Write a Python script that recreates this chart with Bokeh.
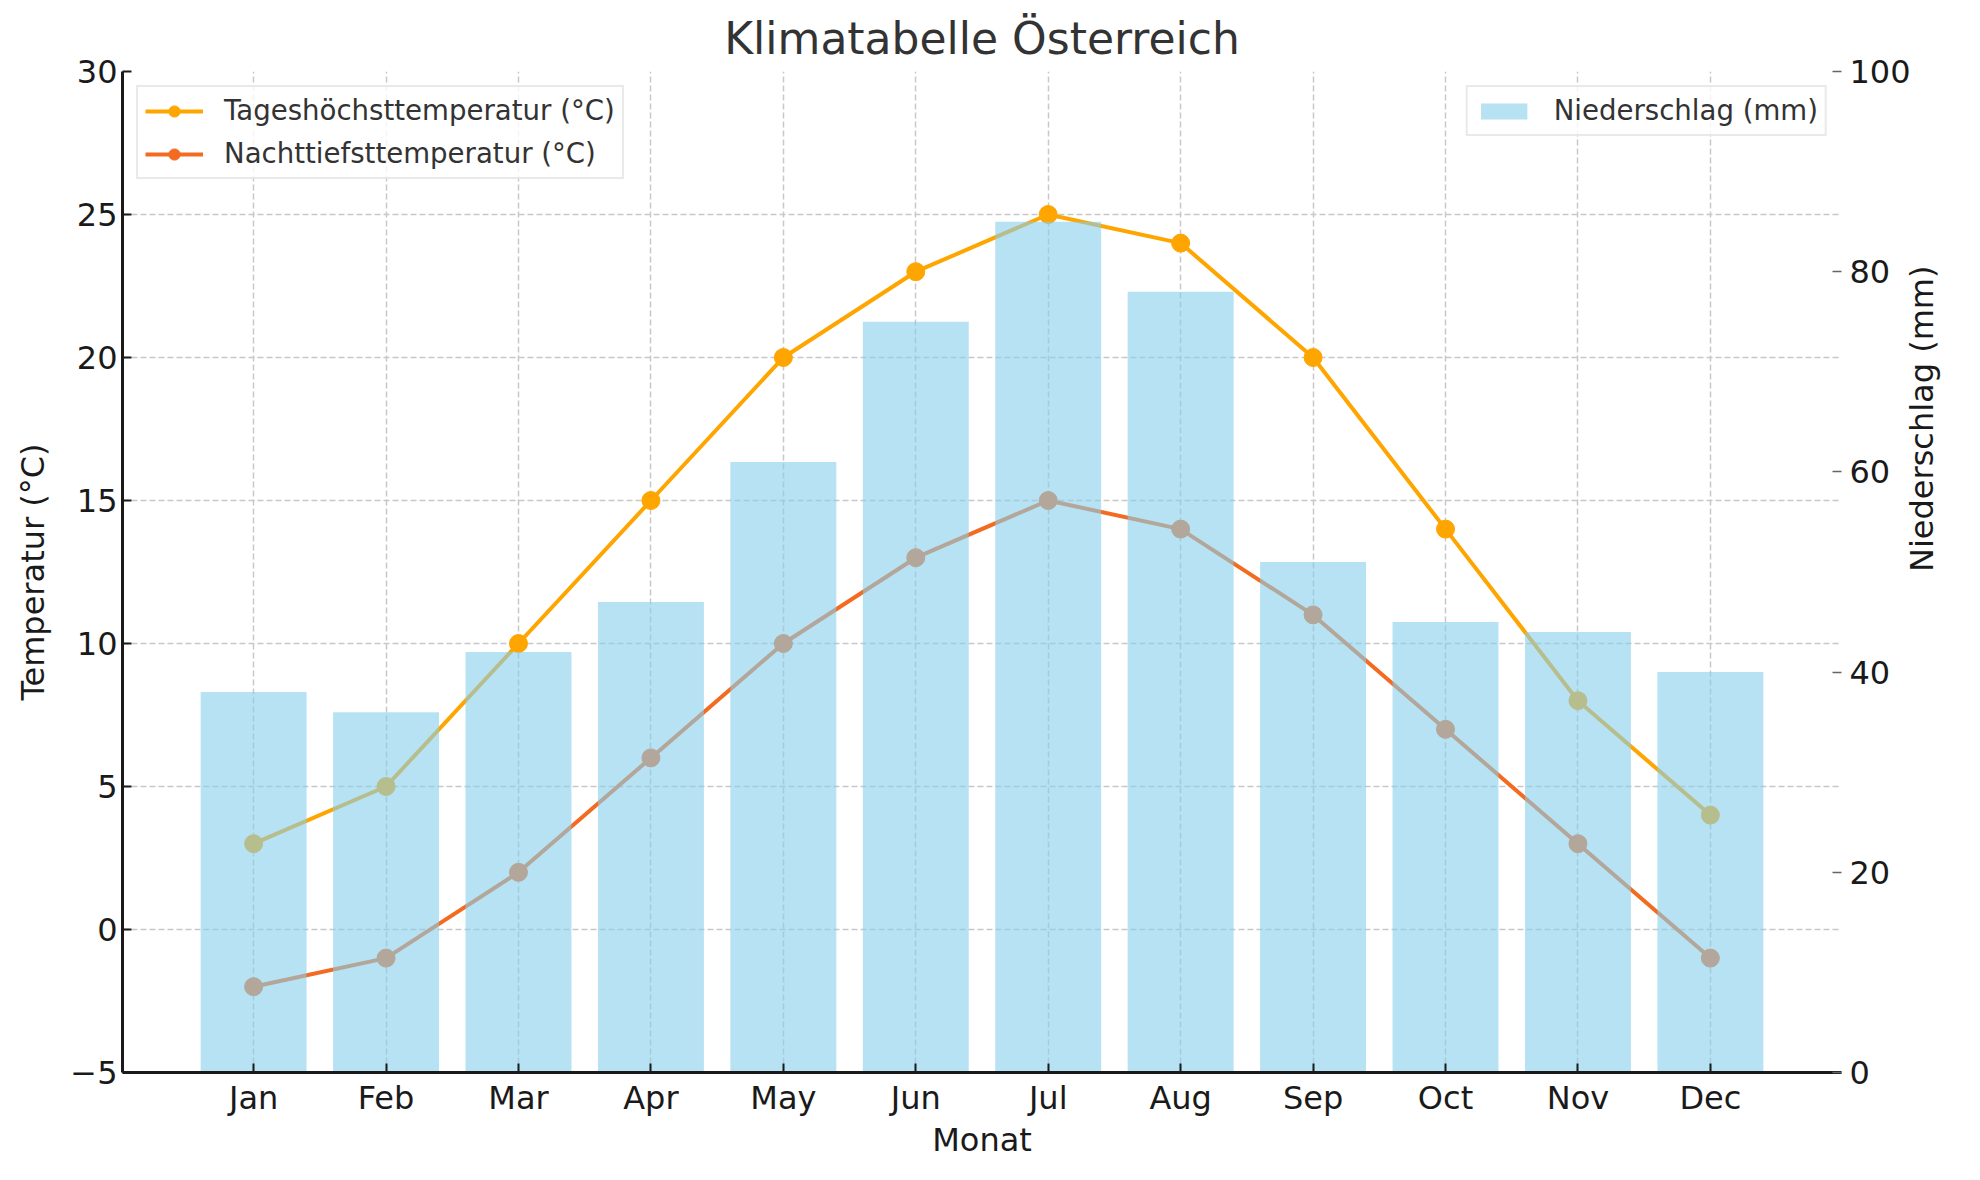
import math
from bokeh.plotting import figure
from bokeh.models import Range1d, LinearAxis, FixedTicker, Legend, LegendItem
from bokeh.embed import file_html
from bokeh.resources import INLINE

# ---- data ----
months = ["Jan", "Feb", "Mar", "Apr", "May", "Jun", "Jul", "Aug", "Sep", "Oct", "Nov", "Dec"]
high_temp = [3, 5, 10, 15, 20, 23, 25, 24, 20, 14, 8, 4]
low_temp = [-2, -1, 2, 6, 10, 13, 15, 14, 11, 7, 3, -1]
precip = [38, 36, 42, 47, 61, 75, 85, 78, 51, 45, 44, 40]
temp_ticks = [-5, 0, 5, 10, 15, 20, 25, 30]
precip_ticks = [0, 20, 40, 60, 80, 100]

FONT = "DejaVu Sans"
x = list(range(len(months)))

W, H = 1964, 1164
BL, BR, BT, BB = 122, 123, 71, 92
X0, X1 = -0.99, len(months) - 1 + 0.99

p = figure(width=W, height=H, output_backend="svg", toolbar_location=None,
           x_range=Range1d(X0, X1), y_range=Range1d(-5, 30),
           min_border_left=BL, min_border_right=BR, min_border_top=BT, min_border_bottom=BB)
p.extra_y_ranges = {"precip": Range1d(0, 100)}
p.outline_line_color = None
p.background_fill_color = "white"

# title
p.title.text = "Klimatabelle Österreich"
p.title.align = "center"
p.title.text_font = FONT
p.title.text_font_size = "44px"
p.title.text_font_style = "normal"
p.title.text_color = "#333333"
p.title.standoff = 15

# lines (drawn first so bars overlay them)
hl = p.line(x, high_temp, line_color="#FFA500", line_width=4)
hs = p.scatter(x, high_temp, size=18, fill_color="#FFA500", line_color="#FFA500")
ll = p.line(x, low_temp, line_color="#F36B21", line_width=4)
ls = p.scatter(x, low_temp, size=18, fill_color="#F36B21", line_color="#F36B21")

bars = p.vbar(x=x, top=precip, bottom=0, width=0.8, y_range_name="precip",
              fill_color="#87CEEB", fill_alpha=0.6, line_color=None)

# axes
xa = p.xaxis[0]
xa.ticker = FixedTicker(ticks=x)
xa.major_label_overrides = {i: m for i, m in enumerate(months)}
xa.axis_label = "Monat"

ya = p.yaxis[0]
ya.ticker = FixedTicker(ticks=temp_ticks)
ya.major_label_overrides = {t: (str(t).replace("-", "\u2212")) for t in temp_ticks}
ya.axis_label = "Temperatur (°C)"

ra = LinearAxis(y_range_name="precip", ticker=FixedTicker(ticks=precip_ticks),
                axis_label="Niederschlag (mm)")
p.add_layout(ra, "right")

for ax in (xa, ya, ra):
    ax.major_label_text_font = FONT
    ax.major_label_text_font_size = "32px"
    ax.major_label_text_color = "#1a1a1a"
    ax.axis_label_text_font = FONT
    ax.axis_label_text_font_size = "32px"
    ax.axis_label_text_font_style = "normal"
    ax.axis_label_text_color = "#1a1a1a"
    ax.minor_tick_line_color = None
    ax.major_tick_in = 9
    ax.major_tick_out = 0
    ax.major_tick_line_width = 2
    ax.major_tick_line_color = "#1a1a1a"
    ax.axis_line_width = 3
    ax.axis_line_color = "#1a1a1a"

xa.major_label_standoff = 6
xa.axis_label_standoff = 1
ya.major_label_standoff = 5
ya.axis_label_standoff = 15
ra.major_label_standoff = 8
ra.axis_line_color = None
ra.major_tick_line_color = "#666666"
ra.major_tick_line_width = 1.5
ra.axis_label_standoff = 8
ra.axis_label_orientation = math.pi / 2

# grid
p.grid.grid_line_color = "#c8c8c8"
p.grid.grid_line_dash = "6 3"
p.grid.grid_line_width = 1.5

# legends
def style_legend(lg, gh):
    lg.label_text_font = FONT
    lg.label_text_font_size = "27.6px"
    lg.label_text_color = "#333333"
    lg.border_line_color = "#d4d4d4"
    lg.border_line_width = 2
    lg.background_fill_color = "white"
    lg.background_fill_alpha = 0.8
    lg.padding = 7
    lg.spacing = 10
    lg.margin = 14
    lg.glyph_width = 58
    lg.glyph_height = gh
    lg.label_height = 28
    lg.label_standoff = 21

leg1 = Legend(items=[LegendItem(label="Tageshöchsttemperatur (°C)", renderers=[hl, hs]),
                     LegendItem(label="Nachttiefsttemperatur (°C)", renderers=[ll, ls])],
              location="top_left")
style_legend(leg1, 28)
leg2 = Legend(items=[LegendItem(label="Niederschlag (mm)", renderers=[bars])],
              location="top_right")
style_legend(leg2, 20)
p.add_layout(leg1)
p.add_layout(leg2)

open("out.html", "w").write(file_html(p, INLINE))
